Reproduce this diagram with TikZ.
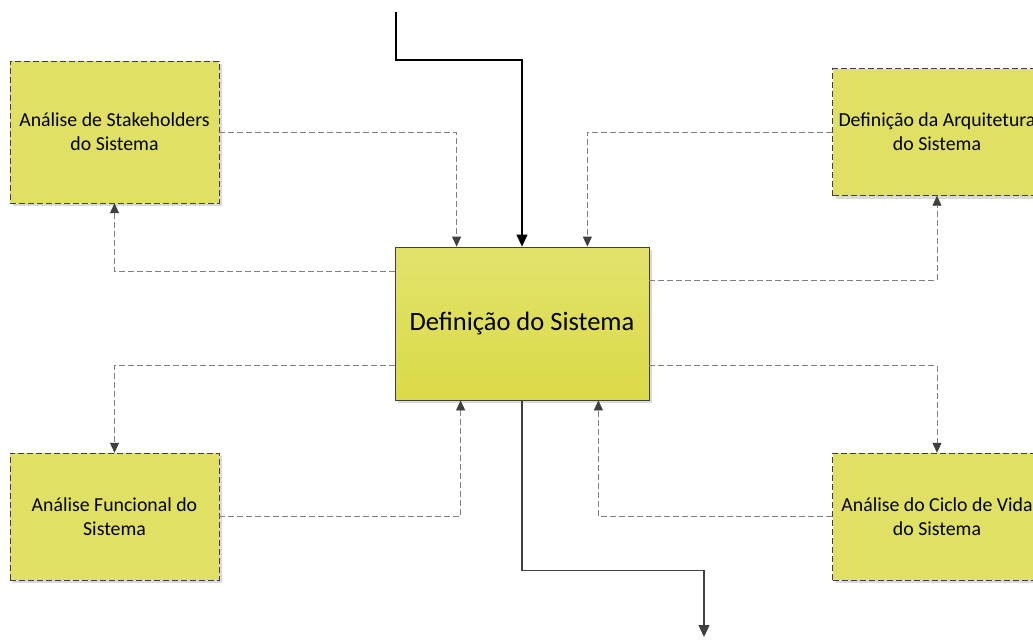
\documentclass[tikz,border=0pt]{standalone}
\usepackage{fontspec}
\setmainfont{Carlito}
\usetikzlibrary{arrows.meta,shadows}

\definecolor{boxfill}{RGB}{224,224,100}
\definecolor{boxtop}{RGB}{226,226,108}
\definecolor{boxbot}{RGB}{218,218,72}
\definecolor{linegray}{RGB}{128,128,128}
\definecolor{tipgray}{RGB}{64,64,64}

\tikzstyle{proc}=[rectangle, draw=tipgray, dashed, dash pattern=on 6pt off 3pt, fill=boxfill,
  minimum width=209pt, minimum height=127pt, align=center, font=\fontsize{19.8}{24}\selectfont,
  drop shadow={shadow xshift=3pt, shadow yshift=-3pt, fill=black!15, opacity=1}]
\tikzstyle{main}=[rectangle, draw=tipgray, thick, top color=boxtop, bottom color=boxbot,
  minimum width=254pt, minimum height=153pt, font=\fontsize{26.5}{30}\selectfont,
  drop shadow={shadow xshift=3pt, shadow yshift=-3pt, fill=black!15, opacity=1}]
\tikzstyle{dep}=[-{Triangle[length=10pt,width=9pt,color=tipgray]}, linegray, thick, dash pattern=on 6pt off 3pt]
\tikzstyle{flow}=[-{Triangle[length=12pt,width=11pt]}, very thick]

\begin{document}
\begin{tikzpicture}[x=1pt,y=-1pt]
        \useasboundingbox (0,0) rectangle (1033,641);
        \node[main] (DEF) at (522,323.5) {Definição do Sistema};
        \node[proc, minimum height=142pt] (SH) at (114.5,132) {Análise de Stakeholders\\do Sistema};
        \node[proc] (ARQ) at (937,132) {Definição da Arquitetura\\do Sistema};
        \node[proc] (FUN) at (114.5,516.5) {Análise Funcional do\\Sistema};
        \node[proc] (CIC) at (937,516.5) {Análise do Ciclo de Vida\\do Sistema};
        \coordinate (in) at (396,12);
        \coordinate (out) at (704,637);

        \draw[flow] (in) -- ++(0,48) -| (DEF.north);
        \draw[flow, tipgray] (DEF.south) -- ++(0,170) -| (out);

        \draw[dep] (SH.east) -| ([xshift=62pt]DEF.north west);
        \draw[dep] ([yshift=-25pt]DEF.north west) -| (SH.south);
        \draw[dep] (ARQ.west) -| ([xshift=-62pt]DEF.north east);
        \draw[dep] ([yshift=-34pt]DEF.north east) -| (ARQ.south);
        \draw[dep] ([yshift=35pt]DEF.south west) -| (FUN.north);
        \draw[dep] (FUN.east) -| ([xshift=66pt]DEF.south west);
        \draw[dep] ([yshift=35pt]DEF.south east) -| (CIC.north);
        \draw[dep] (CIC.west) -| ([xshift=-51pt]DEF.south east);
      \end{tikzpicture}
\end{document}
